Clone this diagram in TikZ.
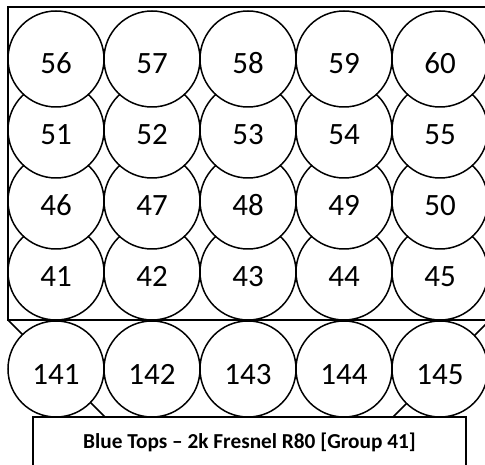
\documentclass[tikz,border=0pt]{standalone}
\usepackage{fontspec}
\setmainfont{Carlito}
\usetikzlibrary{positioning}

\begin{document}
\begin{tikzpicture}[
    x=1pt, y=1pt,
    line width=1.5pt,
    font=\fontsize{31}{35}\selectfont,
    lamp/.style={draw, fill=white, circle, minimum size=96pt, inner sep=0pt, outer sep=0pt,
        text height=30pt, text depth=0pt},
    caption/.style={draw, fill=white, minimum width=433pt, minimum height=50pt, inner sep=2pt,
        font=\fontsize{21.3}{25}\selectfont\bfseries}
]
\useasboundingbox (0,0) rectangle (485,464);
\clip (0,0) rectangle (485,464);

% ---------- Frame and stage outline ----------
\coordinate (tl) at (8,457);
\coordinate (bl) at (8,144);
\coordinate (br) at (490,144);
\coordinate (tr) at (490,457);
\coordinate (sl) at (105,47);
\coordinate (sr) at (393,47);
\draw (tl) -- (bl) -- (br) -- (tr) -- cycle;
\draw (bl) -- (sl) -- (sr) -- (br);

% ---------- Row 41 (drawn first, lies under the rows above) ----------
\node[lamp] (c41) at (56,192) {41};
\node[lamp, right=0pt of c41] (c42) {42};
\node[lamp, right=0pt of c42] (c43) {43};
\node[lamp, right=0pt of c43] (c44) {44};
\node[lamp, right=0pt of c44] (c45) {45};

% ---------- Row 46 ----------
\node[lamp, above=-25pt of c41] (c46) {46};
\node[lamp, right=0pt of c46] (c47) {47};
\node[lamp, right=0pt of c47] (c48) {48};
\node[lamp, right=0pt of c48] (c49) {49};
\node[lamp, right=0pt of c49] (c50) {50};

% ---------- Row 51 ----------
\node[lamp, above=-25pt of c46] (c51) {51};
\node[lamp, right=0pt of c51] (c52) {52};
\node[lamp, right=0pt of c52] (c53) {53};
\node[lamp, right=0pt of c53] (c54) {54};
\node[lamp, right=0pt of c54] (c55) {55};

% ---------- Row 56 ----------
\node[lamp, above=-25pt of c51] (c56) {56};
\node[lamp, right=0pt of c56] (c57) {57};
\node[lamp, right=0pt of c57] (c58) {58};
\node[lamp, right=0pt of c58] (c59) {59};
\node[lamp, right=0pt of c59] (c60) {60};

% ---------- Front row ----------
\node[lamp] (c141) at (56,95) {141};
\node[lamp, right=0pt of c141] (c142) {142};
\node[lamp, right=0pt of c142] (c143) {143};
\node[lamp, right=0pt of c143] (c144) {144};
\node[lamp, right=0pt of c144] (c145) {145};

% ---------- Label ----------
\node[caption] (label) at (249.5,22) {Blue Tops – 2k Fresnel R80 [Group 41]};

\end{tikzpicture}
\end{document}
